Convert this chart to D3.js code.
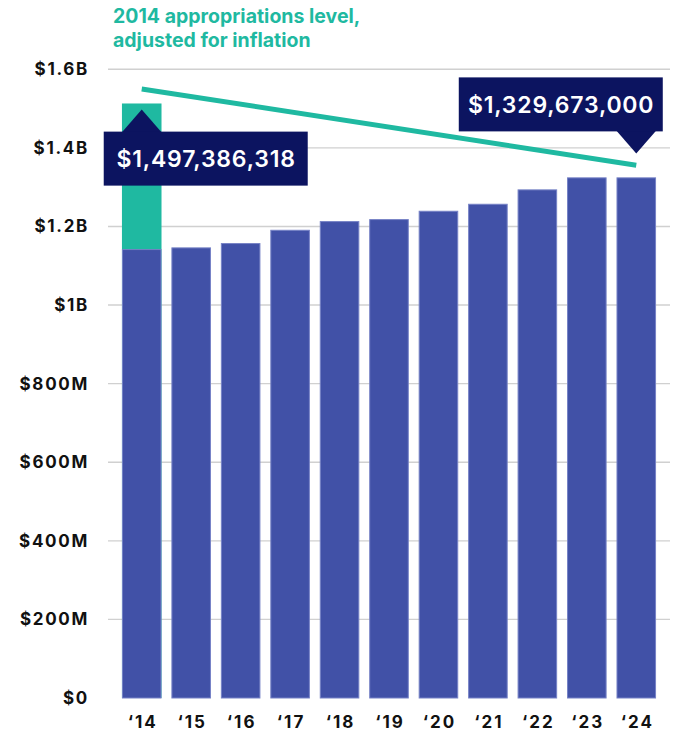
<!DOCTYPE html>
<html>
<head>
<meta charset="utf-8">
<script src="https://cdn.jsdelivr.net/npm/d3@7"></script>
<style>
  html, body { margin: 0; padding: 0; background: #fff; }
  svg { display: block; font-family: "Inter", "Open Sans", sans-serif; }
</style>
</head>
<body>
<svg id="chart" width="674" height="734"></svg>
<script>
// ---- data ----
const years = ["\u201814", "\u201815", "\u201816", "\u201817", "\u201818", "\u201819", "\u201820", "\u201821", "\u201822", "\u201823", "\u201824"];
const appropriations = [1142500000, 1146800000, 1157800000, 1191600000, 1213700000, 1218800000, 1240000000, 1257800000, 1294400000, 1325000000, 1325000000];
const inflationBarYear = "\u201814";
const inflationBarValue = 1513000000;
const inflationLineYears = ["\u201814", "\u201824"];
const inflationLineValues = [1550000000, 1356000000];
const yTicks = [0, 200e6, 400e6, 600e6, 800e6, 1000e6, 1200e6, 1400e6, 1600e6];
const yTickLabels = ["$0", "$200M", "$400M", "$600M", "$800M", "$1B", "$1.2B", "$1.4B", "$1.6B"];
const titleLines = ["2014 appropriations level,", "adjusted for inflation"];
const callouts = [
  { year: "\u201814", value: 1497386318, text: "$1,497,386,318", dir: "up" },
  { year: "\u201824", value: 1386000000, text: "$1,329,673,000", dir: "down" }
];

// ---- setup ----
const svg = d3.select("#chart");
const BLUE = "#4151a7", TEAL = "#1fb9a1", NAVY = "#0c1460";

const x = d3.scaleBand().domain(years).range([117, 661]).paddingInner(0.2).paddingOuter(0.1);
const y = d3.scaleLinear().domain([0, 1.6e9]).range([698, 69.3]);

// gridlines
svg.append("g").selectAll("line").data(yTicks.slice(1)).join("line")
  .attr("x1", 108).attr("x2", 670)
  .attr("y1", d => y(d)).attr("y2", d => y(d))
  .attr("stroke", "#d0d0d0").attr("stroke-width", 1.4);

// y axis labels
svg.append("g").selectAll("text").data(yTicks).join("text")
  .attr("x", 89).attr("y", d => y(d))
  .attr("dy", "0.35em")
  .attr("text-anchor", "end")
  .attr("font-size", 17).attr("font-weight", 700).attr("fill", "#111")
  .attr("letter-spacing", 1.7)
  .text((d, i) => yTickLabels[i]);

// x axis labels
svg.append("g").selectAll("text").data(years).join("text")
  .attr("x", d => x(d) + x.bandwidth() / 2 + 1).attr("y", 722)
  .attr("dy", "0.35em")
  .attr("text-anchor", "middle")
  .attr("font-size", 17).attr("font-weight", 700).attr("fill", "#111")
  .attr("letter-spacing", 2)
  .text(d => d);

// inflation-adjusted bar (teal)
svg.append("rect")
  .attr("x", x(inflationBarYear)).attr("width", x.bandwidth())
  .attr("y", y(inflationBarValue)).attr("height", y(0) - y(inflationBarValue))
  .attr("fill", TEAL);

// bars
svg.append("g").selectAll("rect").data(years).join("rect")
  .attr("x", d => x(d) + 0.5).attr("width", x.bandwidth() - 1)
  .attr("y", (d, i) => y(appropriations[i]) + 0.5)
  .attr("height", (d, i) => y(0) - y(appropriations[i]) - 0.5)
  .attr("fill", BLUE)
  .attr("stroke", "#7682c6").attr("stroke-width", 1);

// inflation line
const lineData = inflationLineYears.map((d, i) => [x(d) + x.bandwidth() / 2, y(inflationLineValues[i])]);
svg.append("path")
  .attr("d", d3.line()(lineData))
  .attr("stroke", TEAL).attr("stroke-width", 5).attr("fill", "none");

// title
svg.append("text")
  .attr("x", 113).attr("y", 22.5)
  .attr("font-size", 19.5).attr("font-weight", 700).attr("fill", TEAL)
  .selectAll("tspan").data(titleLines).join("tspan")
  .attr("x", 113).attr("dy", (d, i) => i === 0 ? 0 : 24)
  .text(d => d);

// callouts
const boxW = 204, boxH = 54, triH = 22, triHalf = 20;
callouts.forEach(c => {
  const cx = x(c.year) + x.bandwidth() / 2;
  const ay = y(c.value);
  const g = svg.append("g");
  let bx, by;
  if (c.dir === "up") {
    by = ay + triH;
    bx = cx - 38;
    g.append("path")
      .attr("d", `M${cx - triHalf},${by + 1} L${cx},${ay} L${cx + triHalf},${by + 1} Z`)
      .attr("fill", NAVY);
  } else {
    by = ay - triH - boxH;
    bx = cx - 177.5;
    g.append("path")
      .attr("d", `M${cx - triHalf},${by + boxH - 1} L${cx},${ay} L${cx + triHalf},${by + boxH - 1} Z`)
      .attr("fill", NAVY);
  }
  g.append("rect").attr("x", bx).attr("y", by).attr("width", boxW).attr("height", boxH).attr("fill", NAVY);
  g.append("text")
    .attr("x", bx + boxW / 2 + 0.4).attr("y", by + boxH / 2)
    .attr("dy", "0.36em")
    .attr("text-anchor", "middle")
    .attr("font-size", 23).attr("font-weight", 600).attr("fill", "#fff")
    .attr("letter-spacing", 0.8)
    .text(c.text);
});
</script>
</body>
</html>
